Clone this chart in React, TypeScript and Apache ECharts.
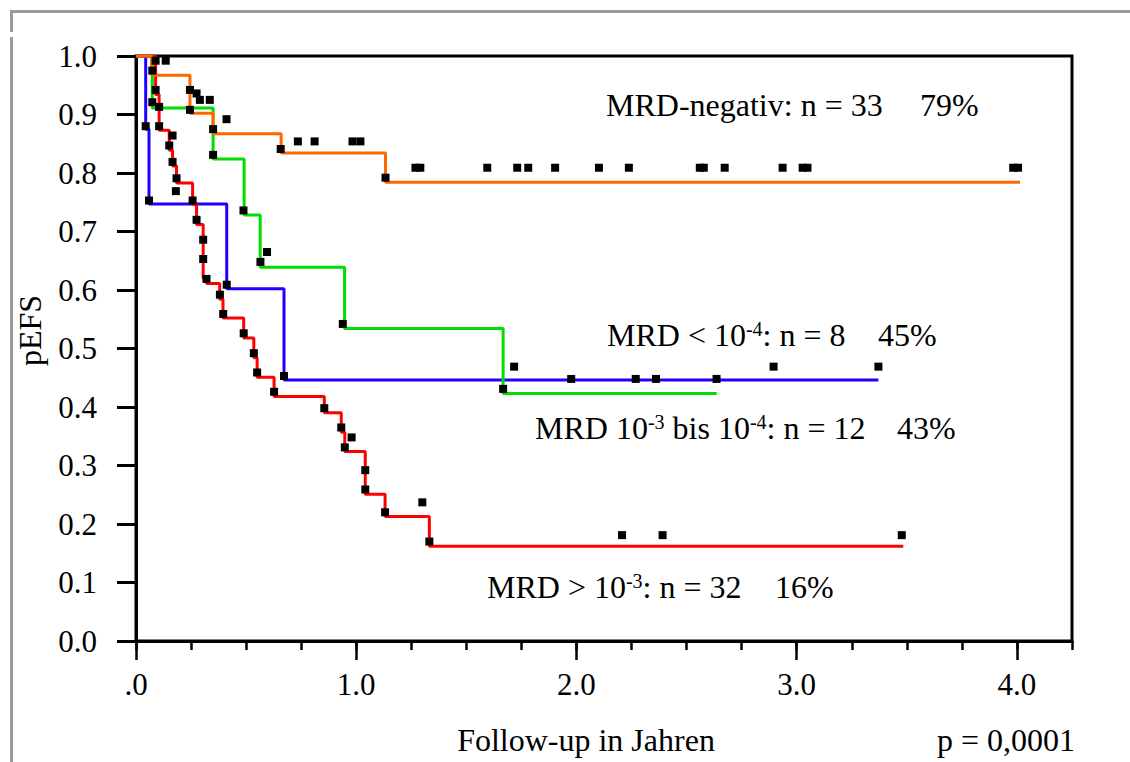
import React, { useEffect, useRef } from 'react';
import * as echarts from 'echarts';

// Kaplan-Meier step curves: [years, pEFS] — drop time and new level
const negSteps = [[0, 1], [0.071, 0.967], [0.245, 0.902], [0.35, 0.867], [0.659, 0.834], [1.133, 0.784], [4.014, 0.784]];
const mid34Steps = [[0, 1], [0.074, 0.911], [0.35, 0.824], [0.491, 0.728], [0.564, 0.639], [0.947, 0.534], [1.667, 0.423], [2.637, 0.423]];
const lt4Steps = [[0, 1], [0.044, 0.875], [0.059, 0.747], [0.412, 0.602], [0.672, 0.446], [3.371, 0.446]];
const gt3Steps = [[0, 1], [0.089, 0.934], [0.105, 0.873], [0.151, 0.839], [0.166, 0.812], [0.184, 0.783], [0.257, 0.746], [0.275, 0.712], [0.305, 0.62], [0.32, 0.611], [0.38, 0.584], [0.395, 0.552], [0.489, 0.518], [0.535, 0.484], [0.55, 0.451], [0.627, 0.418], [0.855, 0.39], [0.932, 0.357], [0.948, 0.324], [1.041, 0.251], [1.131, 0.213], [1.332, 0.162], [3.484, 0.162]];

// observation markers (squares)
const negMarks = [[0.089, 0.992], [0.135, 0.992], [0.074, 0.975], [0.245, 0.942], [0.245, 0.908], [0.275, 0.936], [0.335, 0.925], [0.35, 0.875], [0.411, 0.892], [0.657, 0.841], [0.735, 0.854], [0.811, 0.854], [0.983, 0.854], [1.019, 0.854], [1.133, 0.792], [1.269, 0.809], [1.291, 0.809], [1.595, 0.809], [1.731, 0.809], [1.781, 0.809], [1.903, 0.809], [2.102, 0.809], [2.238, 0.809], [2.56, 0.809], [2.578, 0.809], [2.673, 0.809], [2.936, 0.809], [3.027, 0.809], [3.049, 0.809], [3.983, 0.809], [4.005, 0.809]];
const mid34Marks = [[0.074, 0.921], [0.29, 0.925], [0.35, 0.831], [0.488, 0.736], [0.565, 0.648], [0.595, 0.665], [0.939, 0.542], [1.667, 0.431], [1.976, 0.448], [2.269, 0.448], [2.361, 0.448], [2.636, 0.448]];
const lt4Marks = [[0.044, 0.88], [0.059, 0.753], [0.181, 0.769], [0.412, 0.609], [0.672, 0.453], [1.717, 0.469], [2.895, 0.469], [3.371, 0.469]];
const gt3Marks = [[0.089, 0.942], [0.105, 0.913], [0.105, 0.88], [0.166, 0.864], [0.151, 0.847], [0.166, 0.819], [0.184, 0.791], [0.257, 0.753], [0.275, 0.72], [0.305, 0.686], [0.305, 0.653], [0.32, 0.619], [0.381, 0.592], [0.396, 0.559], [0.489, 0.526], [0.535, 0.492], [0.55, 0.459], [0.627, 0.426], [0.855, 0.398], [0.932, 0.365], [0.979, 0.348], [0.948, 0.331], [1.041, 0.292], [1.041, 0.259], [1.131, 0.22], [1.3, 0.237], [1.332, 0.17], [2.207, 0.181], [2.391, 0.181], [3.477, 0.181]];

const xMajorTicks = [0, 1, 2, 3, 4];

const FONT = "'Liberation Serif', 'Times New Roman', serif";

export default function App() {
  const ref = useRef<HTMLDivElement>(null);
  useEffect(() => {
    document.body.style.margin = '0';
    const chart = echarts.init(ref.current as HTMLDivElement, null, { renderer: 'svg' });
    const lineSeries = (name: string, data: number[][], color: string, z: number) => ({
      name,
      type: 'line',
      step: 'end',
      data,
      symbol: 'none',
      z,
      lineStyle: { color, width: 3 },
      itemStyle: { color },
    });
    const markSeries = (name: string, data: number[][]) => ({
      name,
      type: 'scatter',
      data,
      symbol: 'rect',
      symbolSize: 8,
      z: 10,
      itemStyle: { color: '#000', opacity: 1 },
    });
    const label = (x: number, y: number, text: string) => ({
      type: 'text',
      x,
      y,
      style: {
        text,
        fontSize: 32,
        fontFamily: FONT,
        fill: '#000',
        verticalAlign: 'middle',
        align: 'left',
        rich: { sup: { fontSize: 20, fontFamily: FONT, verticalAlign: 'top', fill: '#000' } },
      },
    });
    const option = {
      animation: false,
      backgroundColor: '#fff',
      grid: { left: 136, top: 56, width: 936, height: 585, show: true, borderColor: '#000', borderWidth: 3 },
      xAxis: [
        {
          type: 'value', min: 0, max: 4.25, interval: 1, position: 'bottom',
          axisLine: { show: true, onZero: false, lineStyle: { color: '#000', width: 3 } },
          axisTick: { show: true, length: 19, customValues: xMajorTicks, lineStyle: { color: '#000', width: 2.5 } },
          axisLabel: {
            customValues: xMajorTicks,
            formatter: (v: number) => (v === 0 ? '.0' : v.toFixed(1)),
            fontSize: 31, fontFamily: FONT, color: '#000', margin: 28,
          },
          splitLine: { show: false },
          name: 'Follow-up in Jahren',
          nameLocation: 'middle',
          nameGap: 83,
          nameTextStyle: { fontSize: 32, fontFamily: FONT, color: '#000', padding: [0, 36, 0, 0] },
        },
        {
          type: 'value', min: 0, max: 4.25, interval: 0.25, position: 'bottom',
          axisLine: { show: false },
          axisTick: { show: true, length: 9, lineStyle: { color: '#000', width: 2.5 } },
          axisLabel: { show: false },
          splitLine: { show: false },
        },
      ],
      yAxis: {
        type: 'value', min: 0, max: 1, interval: 0.1,
        axisLine: { show: true, onZero: false, lineStyle: { color: '#000', width: 3 } },
        axisTick: { show: true, length: 19, lineStyle: { color: '#000', width: 3 } },
        axisLabel: { formatter: (v: number) => v.toFixed(1), fontSize: 31, fontFamily: FONT, color: '#000', margin: 39 },
        splitLine: { show: false },
        name: 'pEFS',
        nameLocation: 'middle',
        nameGap: 90,
        nameTextStyle: { fontSize: 32, fontFamily: FONT, color: '#000', padding: [0, 0, 0, 36] },
      },
      series: [
        lineSeries('MRD < 10-4', lt4Steps, '#2200ff', 2),
        lineSeries('MRD 10-3 bis 10-4', mid34Steps, '#00dd00', 3),
        lineSeries('MRD > 10-3', gt3Steps, '#ff0000', 4),
        lineSeries('MRD-negativ', negSteps, '#ff6600', 5),
        markSeries('MRD-negativ marks', negMarks),
        markSeries('MRD 10-3 bis 10-4 marks', mid34Marks),
        markSeries('MRD < 10-4 marks', lt4Marks),
        markSeries('MRD > 10-3 marks', gt3Marks),
      ],
      graphic: [
        { type: 'line', shape: { x1: 10, y1: 11.5, x2: 1130, y2: 11.5 }, style: { stroke: '#9a9a9a', lineWidth: 3 } },
        { type: 'line', shape: { x1: 11.5, y1: 10, x2: 11.5, y2: 32 }, style: { stroke: '#9a9a9a', lineWidth: 3 } },
        { type: 'line', shape: { x1: 11.5, y1: 37, x2: 11.5, y2: 762 }, style: { stroke: '#9a9a9a', lineWidth: 3 } },
        label(606, 105, 'MRD-negativ: n = 33'),
        label(920, 105, '79%'),
        label(607, 335, 'MRD < 10{sup|-4}: n = 8'),
        label(878, 335, '45%'),
        label(535, 428, 'MRD 10{sup|-3} bis 10{sup|-4}: n = 12'),
        label(897, 428, '43%'),
        label(487, 587, 'MRD > 10{sup|-3}: n = 32'),
        label(775, 587, '16%'),
        {
          type: 'text', x: 1075, y: 740,
          style: { text: 'p = 0,0001', fontSize: 32, fontFamily: FONT, fill: '#000', align: 'right', verticalAlign: 'middle' },
        },
      ],
    };
    chart.setOption(option as any);
    return () => chart.dispose();
  }, []);
  return <div ref={ref} style={{ position: 'absolute', left: 0, top: 0, width: 1130, height: 762 }} />;
}
